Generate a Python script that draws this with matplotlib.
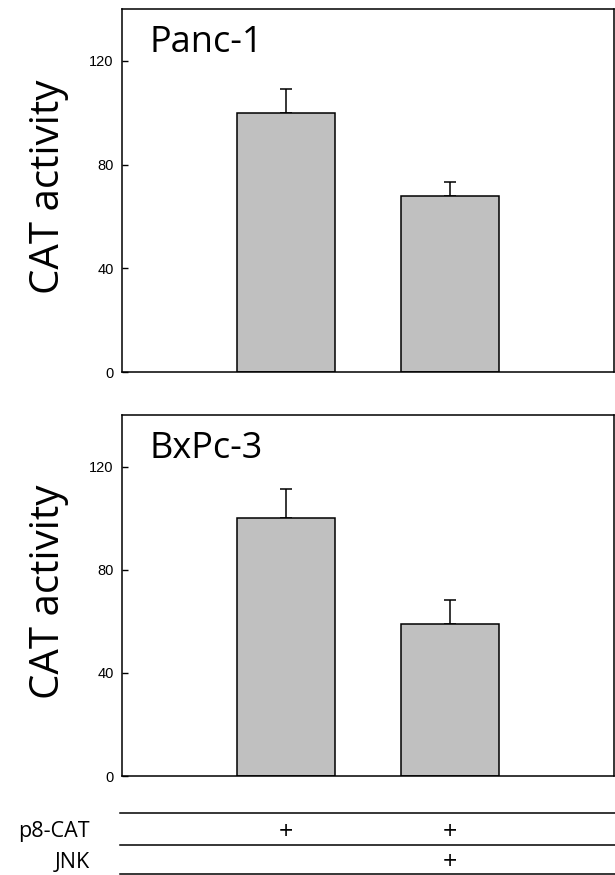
import matplotlib
matplotlib.use("Agg")
import matplotlib.pyplot as plt
from matplotlib.lines import Line2D
from matplotlib.transforms import blended_transform_factory

# data
panels = ["Panc-1", "BxPc-3"]
positions = [1, 2]
panc_means = [100, 67.8]
panc_err = [9, 5.5]
bxpc_means = [100, 59]
bxpc_err = [11.2, 9.4]
yticks = [0, 40, 80, 120]

row_labels = ["p8-CAT", "JNK"]
row_marks = [["+", "+"], ["", "+"]]

W, H = 615, 875
fig = plt.figure(figsize=(W / 100, H / 100), dpi=100)


def px_axes(left, top, right, bottom):
    return fig.add_axes([left / W, 1 - bottom / H, (right - left) / W, (bottom - top) / H])


label_font = "Open Sans"
tick_font = "Liberation Sans"

ax_top = px_axes(122, 9, 614, 372)
ax_bot = px_axes(122, 415, 614, 776)

for ax, name, means, errs in [
    (ax_top, panels[0], panc_means, panc_err),
    (ax_bot, panels[1], bxpc_means, bxpc_err),
]:
    ax.bar(positions, means, width=0.6, color="#c0c0c0", edgecolor="black",
           linewidth=1.1, zorder=2)
    ax.errorbar(positions, means, yerr=[[0, 0], errs], fmt="none", ecolor="black",
                elinewidth=1.1, capsize=4.3, capthick=1.1, zorder=1)
    ax.set_xlim(0, 3)
    ax.set_ylim(0, 140)
    ax.set_xticks([])
    ax.set_yticks(yticks)
    ax.tick_params(axis="y", direction="in", length=4, width=1, pad=6,
                   labelsize=10.5)
    for lab in ax.get_yticklabels():
        lab.set_family(tick_font)
    for sp in ax.spines.values():
        sp.set_linewidth(1.1)
    ax.text(0.055, 0.955, name, transform=ax.transAxes, ha="left", va="top",
            fontsize=26, family=label_font)
    ax.set_ylabel("CAT activity", fontsize=29, family=label_font)
    ax.yaxis.set_label_coords(-0.108, 0.51)

# condition table under the lower panel
for y in [812.7, 845.3, 873.7]:
    fig.add_artist(Line2D([119.6 / W, 1.0], [1 - y / H, 1 - y / H],
                          color="black", linewidth=1.1))

trans = blended_transform_factory(ax_bot.transData, fig.transFigure)
for row, (label, marks) in enumerate(zip(row_labels, row_marks)):
    y = 1 - (832 + row * 31) / H
    fig.text(90 / W, y, label, ha="right", va="center", fontsize=15.5,
             family=label_font)
    for xpos, mark in zip(positions, marks):
        if mark:
            ax_bot.text(xpos, y, mark, transform=trans, ha="center", va="center",
                        fontsize=18, family=label_font, clip_on=False)

fig.savefig("out.png", dpi=100)
